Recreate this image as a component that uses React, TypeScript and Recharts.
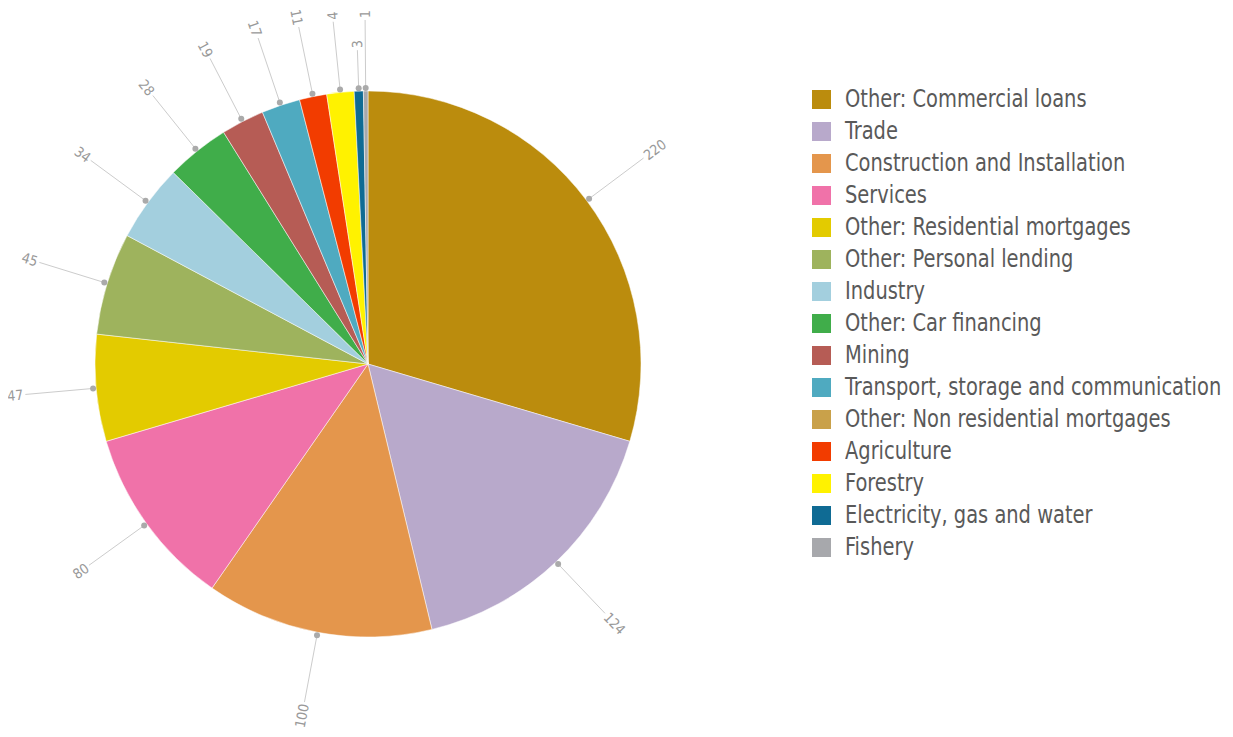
import { PieChart, Pie, Cell, Legend } from 'recharts';

const CATEGORIES = [
  'Other: Commercial loans',
  'Trade',
  'Construction and Installation',
  'Services',
  'Other: Residential mortgages',
  'Other: Personal lending',
  'Industry',
  'Other: Car financing',
  'Mining',
  'Transport, storage and communication',
  'Other: Non residential mortgages',
  'Agriculture',
  'Forestry',
  'Electricity, gas and water',
  'Fishery',
];

// printed labels
const LABELS = [220, 124, 100, 80, 47, 45, 34, 28, 19, 17, 0, 11, 4, 3, 1];
// slice sizes as drawn (small slices are drawn wider than their labels)
const SHARES = [220, 124, 100, 80, 47, 45, 34, 28, 19, 17, 0, 12, 12, 4, 2];

const COLORS = [
  '#BB8C0D',
  '#B8A9CB',
  '#E4964C',
  '#F072A9',
  '#E3CB00',
  '#9EB35D',
  '#A3CFDE',
  '#40AD4A',
  '#B65C55',
  '#4FAAC0',
  '#C9A14A',
  '#F23C00',
  '#FFF200',
  '#0F6B94',
  '#A7A8AC',
];

const FONT = '"DejaVu Sans", sans-serif';
const RADIAN = Math.PI / 180;

const data = CATEGORIES.map((name, i) => ({
  name,
  value: SHARES[i],
  label: LABELS[i],
  color: COLORS[i],
})).filter((d) => d.value > 0);

// mid angle of each slice (degrees), used to keep crowded labels apart
const total = data.reduce((s, d) => s + d.value, 0);
const mids: number[] = [];
{
  let acc = 0;
  data.forEach((d) => {
    mids.push(((acc + d.value / 2) / total) * 360);
    acc += d.value;
  });
}

function renderLabel(props: any) {
  const { cx, cy, midAngle, outerRadius, payload, index } = props;
  const prev = index > 0 ? Math.abs(mids[index] - mids[index - 1]) : 99;
  const next = index < mids.length - 1 ? Math.abs(mids[index + 1] - mids[index]) : 99;
  const crowded = prev < 4.5 && next < 4.5;
  const cos = Math.cos(-midAngle * RADIAN);
  const sin = Math.sin(-midAngle * RADIAN);
  const r1 = outerRadius + 3;
  const r2 = outerRadius + (crowded ? 41 : 71);
  const r3 = r2 + 2;
  const tx = cx + r3 * cos;
  const ty = cy + r3 * sin;
  let rot = -midAngle;
  while (rot <= -180) rot += 360;
  while (rot > 180) rot -= 360;
  let anchor: 'start' | 'end' = 'start';
  if (rot > 98 || rot < -98) {
    rot = rot > 0 ? rot - 180 : rot + 180;
    anchor = 'end';
  }
  return (
    <g>
      <line
        x1={cx + r1 * cos}
        y1={cy + r1 * sin}
        x2={cx + r2 * cos}
        y2={cy + r2 * sin}
        stroke="#cccccc"
        strokeWidth={1}
      />
      <circle cx={cx + r1 * cos} cy={cy + r1 * sin} r={3} fill="#aaaaaa" />
      <text
        x={tx}
        y={ty}
        fill="#999999"
        fontSize={14}
        fontFamily={FONT}
        style={{ fontStretch: 'condensed' }}
        textAnchor={anchor}
        dominantBaseline="central"
        transform={`rotate(${rot} ${tx} ${ty})`}
      >
        {payload.label}
      </text>
    </g>
  );
}

function LegendList() {
  return (
    <div style={{ fontFamily: FONT, fontStretch: 'condensed' }}>
      {CATEGORIES.map((name, i) => (
        <div key={name} style={{ display: 'flex', alignItems: 'center', height: 32 }}>
          <span
            style={{ width: 19, height: 19, background: COLORS[i], marginRight: 14, flex: 'none' }}
          />
          <span
            style={{
              fontSize: 24,
              color: '#595959',
              whiteSpace: 'nowrap',
              display: 'inline-block',
              transform: 'scaleX(0.9)',
              transformOrigin: 'left center',
            }}
          >
            {name}
          </span>
        </div>
      ))}
    </div>
  );
}

export default function App() {
  return (
    <PieChart width={1225} height={729}>
      <Pie
        data={data}
        dataKey="value"
        nameKey="name"
        cx={355}
        cy={351}
        outerRadius={273}
        startAngle={90}
        endAngle={-270}
        stroke="#ffffff"
        strokeWidth={0.5}
        label={renderLabel}
        labelLine={false}
        isAnimationActive={false}
      >
        {data.map((d) => (
          <Cell key={d.name} fill={d.color} />
        ))}
      </Pie>
      <Legend
        layout="vertical"
        align="right"
        verticalAlign="top"
        content={() => <LegendList />}
        wrapperStyle={{ left: 804, top: 75, width: 420, overflow: 'hidden' }}
      />
    </PieChart>
  );
}
